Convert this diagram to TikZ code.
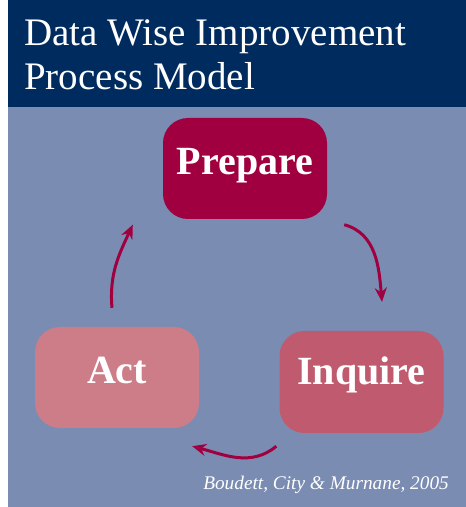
\documentclass[tikz,border=0pt]{standalone}
\usepackage{fontspec}
\setmainfont{Liberation Serif}
\usetikzlibrary{arrows.meta,positioning}
\definecolor{dwNavy}{HTML}{002B5E}
\definecolor{dwSlate}{HTML}{7A8CB2}
\definecolor{dwCrimson}{HTML}{A00040}
\definecolor{dwRose}{HTML}{C05A6E}
\definecolor{dwBlush}{HTML}{CC7D88}
\tikzset{
  dw-box/.style={
    rounded corners=25pt, inner sep=0pt, minimum width=164pt,
    text height=57pt, text depth=44pt, text=white,
    font=\fontsize{40}{44}\selectfont\bfseries
  },
  dw-prepare/.style={dw-box, fill=dwCrimson},
  dw-inquire/.style={dw-box, fill=dwRose, text height=54pt, text depth=48pt},
  dw-act/.style={dw-box, fill=dwBlush},
  dw-flow/.style={-{Stealth[length=14pt,width=12pt]}, line width=3pt,
    draw=dwCrimson},
  dw-title/.style={text=white, inner sep=0pt, align=left,
    font=\fontsize{39}{44}\selectfont},
  dw-cite/.style={text=white, inner sep=0pt,
    font=\fontsize{19.3}{22}\selectfont\itshape}
}

\begin{document}
\begin{tikzpicture}[x=1pt, y=1pt]
\useasboundingbox (0,0) rectangle (466,507);
% --- Background ---
\fill[dwSlate] (8,0) rectangle (466,400);
\fill[dwNavy] (8,400) rectangle (466,507);
\node[dw-title, anchor=base west] (title) at (24,417)
  {Data Wise Improvement\\Process Model};

% --- Cycle ---
\node[dw-prepare] (prepare) at (245,338.5) {Prepare};
\node[dw-inquire] (inquire) at (361.5,125) {Inquire};
\node[dw-act] (act) at (117,129.5) {Act};

% --- Flux ---
\draw[dw-flow] ([shift={(17,-5.5)}]prepare.south east)
  to[out=-15, in=95] ([shift={(20.5,29)}]inquire.north);
\draw[dw-flow] ([shift={(-3,-13)}]inquire.south west)
  to[out=-140, in=-15] ([shift={(-7,-18)}]act.south east);
\draw[dw-flow] ([shift={(-5,19)}]act.north)
  to[out=95, in=-115] ([shift={(-30,-5.5)}]prepare.south west);

\node[dw-cite, anchor=base east] (cite) at (449,17)
  {Boudett, City \& Murnane, 2005};
\end{tikzpicture}
\end{document}
